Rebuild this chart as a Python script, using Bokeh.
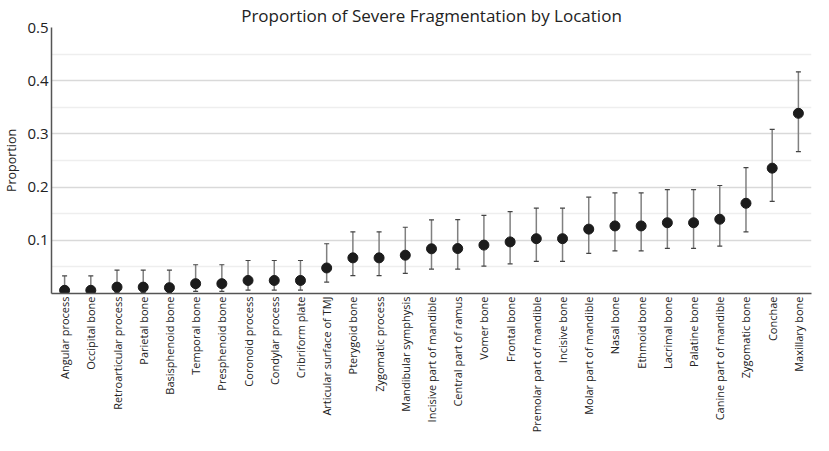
from bokeh.plotting import figure
from bokeh.models import ColumnDataSource, FactorRange, Range1d, FixedTicker, Whisker, TeeHead
from bokeh.embed import file_html
from bokeh.resources import INLINE

categories = [
    "Angular process", "Occipital bone", "Retroarticular process", "Parietal bone",
    "Basisphenoid bone", "Temporal bone", "Presphenoid bone", "Coronoid process",
    "Condylar process", "Cribriform plate", "Articular surface of TMJ", "Pterygoid bone",
    "Zygomatic process", "Mandibular symphysis", "Incisive part of mandible",
    "Central part of ramus", "Vomer bone", "Frontal bone", "Premolar part of mandible",
    "Incisive bone", "Molar part of mandible", "Nasal bone", "Ethmoid bone",
    "Lacrimal bone", "Palatine bone", "Canine part of mandible", "Zygomatic bone",
    "Conchae", "Maxillary bone",
]
proportion = [0.006, 0.006, 0.012, 0.012, 0.011, 0.0185, 0.0185, 0.0245, 0.0245, 0.0245,
              0.048, 0.067, 0.067, 0.072, 0.084, 0.0845, 0.091, 0.097, 0.103, 0.103,
              0.121, 0.127, 0.127, 0.133, 0.133, 0.1396, 0.1696, 0.2356, 0.3387]
upper = [0.033, 0.033, 0.044, 0.044, 0.044, 0.054, 0.054, 0.062, 0.062, 0.062,
         0.0935, 0.116, 0.116, 0.1245, 0.1385, 0.139, 0.147, 0.154, 0.1606, 0.1606,
         0.181, 0.189, 0.189, 0.1953, 0.1953, 0.203, 0.2367, 0.3086, 0.4166]
lower = [0.0005, 0.0005, 0.002, 0.002, 0.002, 0.004, 0.004, 0.0065, 0.0065, 0.0065,
         0.0215, 0.0335, 0.0335, 0.038, 0.046, 0.046, 0.0515, 0.0558, 0.0605, 0.0605,
         0.0755, 0.080, 0.080, 0.085, 0.085, 0.0892, 0.1157, 0.1732, 0.2667]
y_ticks = [0.1, 0.2, 0.3, 0.4, 0.5]
y_minor = [0.05, 0.15, 0.25, 0.35, 0.45]

FONT = "Open Sans"
TXT = "#222222"

src = ColumnDataSource(dict(cat=categories, val=proportion, up=upper, lo=lower))

p = figure(x_range=FactorRange(*categories, range_padding=0), y_range=Range1d(0, 0.5),
           width=813, height=435, output_backend="svg", toolbar_location=None,
           title="Proportion of Severe Fragmentation by Location",
           min_border_left=0, min_border_right=2, min_border_top=0, min_border_bottom=0)
p.outline_line_color = None
p.title.align = "center"
p.title.text_font = FONT
p.title.text_font_style = "normal"
p.title.text_font_size = "17px"
p.title.text_color = TXT
p.title.standoff = 2
p.title.offset = 0

p.xgrid.grid_line_color = None
p.ygrid.grid_line_color = "#d9d9d9"
p.ygrid.grid_line_width = 1.5
p.ygrid.minor_grid_line_color = "#eeeeee"
p.ygrid.minor_grid_line_width = 1.5

for ax in (p.xaxis, p.yaxis):
    ax.major_tick_line_color = None
    ax.minor_tick_line_color = None
    ax.major_tick_out = 0
    ax.major_tick_in = 0
    ax.minor_tick_out = 0
    ax.minor_tick_in = 0
    ax.axis_line_color = "#555555"
    ax.axis_line_width = 1.5

p.yaxis.ticker = FixedTicker(ticks=y_ticks, minor_ticks=y_minor)
p.yaxis.axis_label = "Proportion"
p.yaxis.axis_label_text_font = FONT
p.yaxis.axis_label_text_font_style = "normal"
p.yaxis.axis_label_text_font_size = "12.5px"
p.yaxis.axis_label_text_color = TXT
p.yaxis.axis_label_standoff = 4
p.yaxis.major_label_text_font = FONT
p.yaxis.major_label_text_font_size = "15px"
p.yaxis.major_label_text_color = TXT
p.yaxis.major_label_standoff = 3

p.xaxis.major_label_orientation = 1.5708
p.xaxis.major_label_text_font = FONT
p.xaxis.major_label_text_font_size = "11px"
p.xaxis.major_label_text_color = TXT
p.xaxis.major_label_standoff = 3

w = Whisker(source=src, base="cat", upper="up", lower="lo",
            line_color="#808080", line_width=1.5,
            upper_head=TeeHead(size=5, line_color="#444444", line_width=1.2),
            lower_head=TeeHead(size=5, line_color="#444444", line_width=1.2))
p.add_layout(w)

p.scatter(x="cat", y="val", source=src, size=10, fill_color="#1c1c1c",
          line_color="#1c1c1c")

open("out.html", "w").write(file_html(p, INLINE))
